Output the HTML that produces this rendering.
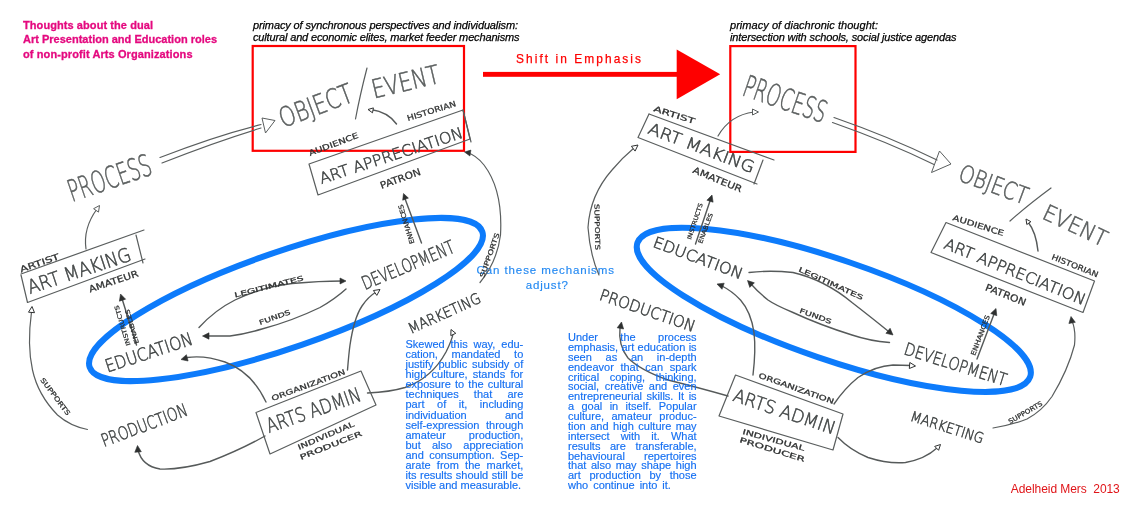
<!DOCTYPE html>
<html lang="en"><head><meta charset="utf-8"><title>Thoughts about the dual Art Presentation and Education roles of non-profit Arts Organizations</title>
<style>
html,body{margin:0;padding:0;background:#fff}
#stage{position:relative;width:1136px;height:505px;overflow:hidden;background:#fff;font-family:"Liberation Sans",sans-serif}
#stage svg{position:absolute;left:0;top:0}
#layer{position:absolute;left:0;top:0;width:1136px;height:505px;will-change:transform;transform:translateZ(0)}
.para{position:absolute;color:#1670f2;font-size:11px;line-height:10px;-webkit-text-stroke:0.16px #1670f2}
.para div{white-space:nowrap;text-align:justify;text-align-last:justify;height:10px;overflow:visible}
.para div.last{text-align-last:left;white-space:nowrap}
svg text{white-space:pre}
</style></head><body>
<div id="stage"><div id="layer">
<svg width="1136" height="505" viewBox="0 0 1136 505">
<ellipse cx="286" cy="299.5" rx="207.7" ry="48" transform="rotate(-19.06 286 299.5)" fill="none" stroke="#0d7bfb" stroke-width="6"/>
<ellipse cx="833.8" cy="309.8" rx="207.5" ry="50" transform="rotate(18.85 833.8 309.8)" fill="none" stroke="#0d7bfb" stroke-width="6"/>
<rect x="252.7" y="46" width="211.3" height="104.8" fill="none" stroke="#fe0000" stroke-width="2.2"/>
<rect x="730.3" y="46.1" width="125.2" height="105.8" fill="none" stroke="#fe0000" stroke-width="2.2"/>
<rect x="483" y="71.9" width="196" height="4.9" fill="#fe0000"/>
<polygon points="676.7,49.4 720.2,74.3 676.7,99.2" fill="#fe0000"/>
<text x="516" y="62.8" font-family="'Liberation Sans',sans-serif" font-size="11.9" font-weight="400" font-style="normal" fill="#fe0000" textLength="125" lengthAdjust="spacing" stroke="#fe0000" stroke-width="0.25">Shift in Emphasis</text>
<text x="23" y="28.5" font-family="'Liberation Sans',sans-serif" font-size="11" font-weight="700" font-style="normal" fill="#e4097f" textLength="130" lengthAdjust="spacing" stroke="#e4097f" stroke-width="0.3">Thoughts about the dual</text>
<text x="23" y="43.4" font-family="'Liberation Sans',sans-serif" font-size="11" font-weight="700" font-style="normal" fill="#e4097f" textLength="194" lengthAdjust="spacing" stroke="#e4097f" stroke-width="0.3">Art Presentation and Education roles</text>
<text x="23" y="57.8" font-family="'Liberation Sans',sans-serif" font-size="11" font-weight="700" font-style="normal" fill="#e4097f" textLength="169.5" lengthAdjust="spacing" stroke="#e4097f" stroke-width="0.3">of non-profit Arts Organizations</text>
<text x="253" y="28.8" font-family="'Liberation Sans',sans-serif" font-size="11" font-weight="400" font-style="italic" fill="#000" textLength="265" lengthAdjust="spacing" stroke="#000" stroke-width="0.25">primacy of synchronous perspectives and individualism:</text>
<text x="253" y="40.8" font-family="'Liberation Sans',sans-serif" font-size="11" font-weight="400" font-style="italic" fill="#000" textLength="266.5" lengthAdjust="spacing" stroke="#000" stroke-width="0.25">cultural and economic elites, market feeder mechanisms</text>
<text x="730" y="28.8" font-family="'Liberation Sans',sans-serif" font-size="11" font-weight="400" font-style="italic" fill="#000" textLength="148" lengthAdjust="spacing" stroke="#000" stroke-width="0.25">primacy of diachronic thought:</text>
<text x="730" y="40.8" font-family="'Liberation Sans',sans-serif" font-size="11" font-weight="400" font-style="italic" fill="#000" textLength="226.5" lengthAdjust="spacing" stroke="#000" stroke-width="0.25">intersection with schools, social justice agendas</text>
<text x="476.5" y="273.8" font-family="'Liberation Sans',sans-serif" font-size="11.5" font-weight="400" font-style="normal" fill="#2489f2" textLength="137.5" lengthAdjust="spacing" stroke="#2489f2" stroke-width="0.15">Can these mechanisms</text>
<text x="525.8" y="288.8" font-family="'Liberation Sans',sans-serif" font-size="11.5" font-weight="400" font-style="normal" fill="#2489f2" textLength="42" lengthAdjust="spacing" stroke="#2489f2" stroke-width="0.15">adjust?</text>
<text x="1010.8" y="492.8" font-family="'Liberation Sans',sans-serif" font-size="12" font-weight="400" font-style="normal" fill="#e01418" textLength="109" lengthAdjust="spacing" >Adelheid Mers  2013</text>
<text transform="translate(72.0 202.0) rotate(-18.9)" font-family="'DejaVu Sans Light','DejaVu Sans','Liberation Sans',sans-serif" font-weight="200" font-size="30.2" fill="#5a5e5e" stroke="#5a5e5e" stroke-width="0.55" textLength="86.6" lengthAdjust="spacingAndGlyphs" >PROCESS</text>
<path d="M160,157.5 Q215,136 261,124.5" fill="none" stroke="#5a5e5e" stroke-width="1.2" stroke-linecap="round" stroke-linejoin="round" />
<path d="M162,163 Q215,142 261,128" fill="none" stroke="#5a5e5e" stroke-width="1.2" stroke-linecap="round" stroke-linejoin="round" />
<polygon points="262,118 275,120.5 265.5,133" fill="none" stroke="#5a5e5e" stroke-width="1"/>
<text transform="translate(283.0 128.0) rotate(-20.6)" font-family="'DejaVu Sans Light','DejaVu Sans','Liberation Sans',sans-serif" font-weight="200" font-size="27.2" fill="#5a5e5e" stroke="#5a5e5e" stroke-width="0.55" textLength="76.9" lengthAdjust="spacingAndGlyphs" >OBJECT</text>
<path d="M367,68 Q360,95 355.5,119" fill="none" stroke="#5a5e5e" stroke-width="1.2" stroke-linecap="round" stroke-linejoin="round" />
<text transform="translate(374.0 98.5) rotate(-13.4)" font-family="'DejaVu Sans Light','DejaVu Sans','Liberation Sans',sans-serif" font-weight="200" font-size="25.9" fill="#5a5e5e" stroke="#5a5e5e" stroke-width="0.55" textLength="68.9" lengthAdjust="spacingAndGlyphs" >EVENT</text>
<text transform="translate(408.0 121.0) rotate(-17.2)" font-family="'DejaVu Sans','Liberation Sans',sans-serif" font-weight="400" font-size="7.8" fill="#2e3030" stroke="#2e3030" stroke-width="0.25" textLength="50.8" lengthAdjust="spacingAndGlyphs" >HISTORIAN</text>
<path d="M396.5,124 Q388,112 371,109.5" fill="none" stroke="#565a5a" stroke-width="1.44" stroke-linecap="round" stroke-linejoin="round" />
<polygon points="368.0,109.5 373.4,107.9 372.5,112.8" fill="#fff" stroke="#2e3030" stroke-width="1" stroke-linejoin="round"/>
<text transform="translate(310.0 156.0) rotate(-20.7)" font-family="'DejaVu Sans','Liberation Sans',sans-serif" font-weight="400" font-size="7.8" fill="#2e3030" stroke="#2e3030" stroke-width="0.25" textLength="52.4" lengthAdjust="spacingAndGlyphs" >AUDIENCE</text>
<path d="M309,164 L463,110 L470,139 L318,195 Z" fill="none" stroke="#5a5e5e" stroke-width="1.2" stroke-linecap="round" stroke-linejoin="round" />
<path d="M463,110 L471,142" fill="none" stroke="#5a5e5e" stroke-width="1.2" stroke-linecap="round" stroke-linejoin="round" />
<text transform="translate(321.5 184.0) rotate(-18.1)" font-family="'DejaVu Sans Light','DejaVu Sans','Liberation Sans',sans-serif" font-weight="200" font-size="15.4" fill="#444848" stroke="#444848" stroke-width="0.55" textLength="149.9" lengthAdjust="spacingAndGlyphs" >ART APPRECIATION</text>
<text transform="translate(381.5 189.0) rotate(-19.9)" font-family="'DejaVu Sans','Liberation Sans',sans-serif" font-weight="400" font-size="9.7" fill="#2e3030" stroke="#2e3030" stroke-width="0.25" textLength="42.5" lengthAdjust="spacingAndGlyphs" >PATRON</text>
<path d="M404,196 L421.5,243" fill="none" stroke="#565a5a" stroke-width="1.44" stroke-linecap="round" stroke-linejoin="round" />
<polygon points="403.5,193.5 408.4,198.1 402.7,200.2" fill="#2e3030" stroke="#2e3030" stroke-width="0.6" stroke-linejoin="round"/>
<text transform="translate(414.5 243.0) rotate(-107.1)" font-family="'DejaVu Sans','Liberation Sans',sans-serif" font-weight="400" font-size="6.6" fill="#2e3030" stroke="#2e3030" stroke-width="0.25" textLength="40.8" lengthAdjust="spacingAndGlyphs" >ENHANCES</text>
<path d="M480,282.5 Q497,262 500.5,235 Q503,190 484,165 Q476,155 467,152.5" fill="none" stroke="#5a5e5e" stroke-width="1.2" stroke-linecap="round" stroke-linejoin="round" />
<polygon points="464.5,152.0 470.9,150.1 469.9,156.0" fill="#2e3030" stroke="#2e3030" stroke-width="0.6" stroke-linejoin="round"/>
<text transform="translate(484.0 278.0) rotate(-70.6)" font-family="'DejaVu Sans','Liberation Sans',sans-serif" font-weight="400" font-size="6.6" fill="#2e3030" stroke="#2e3030" stroke-width="0.25" textLength="46.7" lengthAdjust="spacingAndGlyphs" >SUPPORTS</text>
<text transform="translate(365.0 290.0) rotate(-22.7)" font-family="'DejaVu Sans Light','DejaVu Sans','Liberation Sans',sans-serif" font-weight="200" font-size="18.5" fill="#444848" stroke="#444848" stroke-width="0.55" textLength="98.6" lengthAdjust="spacingAndGlyphs" >DEVELOPMENT</text>
<path d="M199,327.5 Q215,310 235,300 Q262,287 292,283.5 Q320,281 342,281" fill="none" stroke="#565a5a" stroke-width="1.38" stroke-linecap="round" stroke-linejoin="round" />
<polygon points="346.0,281.0 340.0,284.0 340.0,278.0" fill="#2e3030" stroke="#2e3030" stroke-width="0.6" stroke-linejoin="round"/>
<text transform="translate(235.0 297.5) rotate(-14.2)" font-family="'DejaVu Sans','Liberation Sans',sans-serif" font-weight="400" font-size="6.6" fill="#2e3030" stroke="#2e3030" stroke-width="0.25" textLength="71.2" lengthAdjust="spacingAndGlyphs" >LEGITIMATES</text>
<path d="M346,289 Q335,299 320,307.5 Q292,321 262,329 Q245,334 230,336 L208,336" fill="none" stroke="#565a5a" stroke-width="1.38" stroke-linecap="round" stroke-linejoin="round" />
<polygon points="202.5,336.0 209.0,332.8 209.0,339.2" fill="#2e3030" stroke="#2e3030" stroke-width="0.6" stroke-linejoin="round"/>
<text transform="translate(260.0 325.0) rotate(-19.5)" font-family="'DejaVu Sans','Liberation Sans',sans-serif" font-weight="400" font-size="6.6" fill="#2e3030" stroke="#2e3030" stroke-width="0.25" textLength="32.9" lengthAdjust="spacingAndGlyphs" >FUNDS</text>
<text transform="translate(107.5 372.5) rotate(-18.2)" font-family="'DejaVu Sans Light','DejaVu Sans','Liberation Sans',sans-serif" font-weight="200" font-size="17.9" fill="#444848" stroke="#444848" stroke-width="0.55" textLength="91.1" lengthAdjust="spacingAndGlyphs" >EDUCATION</text>
<path d="M266,402 Q252,372 225,362 Q205,355 187,357.5" fill="none" stroke="#565a5a" stroke-width="1.38" stroke-linecap="round" stroke-linejoin="round" />
<polygon points="181.0,359.5 186.4,354.7 188.1,361.0" fill="#2e3030" stroke="#2e3030" stroke-width="0.6" stroke-linejoin="round"/>
<path d="M347.5,370 Q349,352 350,345 Q354,318 362,306 Q368,297 376,292" fill="none" stroke="#565a5a" stroke-width="1.38" stroke-linecap="round" stroke-linejoin="round" />
<polygon points="380.0,289.5 376.8,295.4 373.4,290.5" fill="#fff" stroke="#2e3030" stroke-width="1" stroke-linejoin="round"/>
<text transform="translate(411.0 334.0) rotate(-24.3)" font-family="'DejaVu Sans Light','DejaVu Sans','Liberation Sans',sans-serif" font-weight="200" font-size="14.8" fill="#444848" stroke="#444848" stroke-width="0.55" textLength="77.9" lengthAdjust="spacingAndGlyphs" >MARKETING</text>
<path d="M367.5,393 Q390,392 405,387.5 Q432,378 446,352 Q452,340 453,334" fill="none" stroke="#565a5a" stroke-width="1.38" stroke-linecap="round" stroke-linejoin="round" />
<polygon points="451.0,329.5 455.8,333.3 450.8,335.6" fill="#fff" stroke="#2e3030" stroke-width="1" stroke-linejoin="round"/>
<path d="M256,412.5 L361,371 L376,405 L270,454 Z" fill="none" stroke="#5a5e5e" stroke-width="1.2" stroke-linecap="round" stroke-linejoin="round" />
<text transform="translate(269.0 433.0) rotate(-19.2)" font-family="'DejaVu Sans Light','DejaVu Sans','Liberation Sans',sans-serif" font-weight="200" font-size="19.8" fill="#444848" stroke="#444848" stroke-width="0.55" textLength="99.0" lengthAdjust="spacingAndGlyphs" >ARTS ADMIN</text>
<text transform="translate(272.5 401.0) rotate(-20.2)" font-family="'DejaVu Sans','Liberation Sans',sans-serif" font-weight="400" font-size="7.2" fill="#2e3030" stroke="#2e3030" stroke-width="0.25" textLength="78.3" lengthAdjust="spacingAndGlyphs" >ORGANIZATION</text>
<text transform="translate(299.0 450.0) rotate(-23.2)" font-family="'DejaVu Sans','Liberation Sans',sans-serif" font-weight="400" font-size="7.2" fill="#2e3030" stroke="#2e3030" stroke-width="0.25" textLength="60.9" lengthAdjust="spacingAndGlyphs" >INDIVIDUAL</text>
<text transform="translate(301.0 460.0) rotate(-21.7)" font-family="'DejaVu Sans','Liberation Sans',sans-serif" font-weight="400" font-size="7.2" fill="#2e3030" stroke="#2e3030" stroke-width="0.25" textLength="66.2" lengthAdjust="spacingAndGlyphs" >PRODUCER</text>
<text transform="translate(104.0 447.0) rotate(-20.6)" font-family="'DejaVu Sans Light','DejaVu Sans','Liberation Sans',sans-serif" font-weight="200" font-size="17.9" fill="#444848" stroke="#444848" stroke-width="0.55" textLength="90.8" lengthAdjust="spacingAndGlyphs" >PRODUCTION</text>
<path d="M265,436 Q240,450 210,461.5 Q180,470 160,469 Q142,466 138,450" fill="none" stroke="#565a5a" stroke-width="1.38" stroke-linecap="round" stroke-linejoin="round" />
<polygon points="137.5,445.5 141.3,451.7 134.8,452.3" fill="#2e3030" stroke="#2e3030" stroke-width="0.6" stroke-linejoin="round"/>
<path d="M21,274 L144,230" fill="none" stroke="#5a5e5e" stroke-width="1.2" stroke-linecap="round" stroke-linejoin="round" />
<path d="M136,235 L143,263" fill="none" stroke="#5a5e5e" stroke-width="1.2" stroke-linecap="round" stroke-linejoin="round" />
<path d="M27.5,302.5 L145,259" fill="none" stroke="#5a5e5e" stroke-width="1.2" stroke-linecap="round" stroke-linejoin="round" />
<path d="M21,275 L27.5,302.5" fill="none" stroke="#5a5e5e" stroke-width="1.2" stroke-linecap="round" stroke-linejoin="round" />
<text transform="translate(30.0 294.0) rotate(-18.4)" font-family="'DejaVu Sans Light','DejaVu Sans','Liberation Sans',sans-serif" font-weight="200" font-size="19.1" fill="#444848" stroke="#444848" stroke-width="0.55" textLength="108.0" lengthAdjust="spacingAndGlyphs" >ART MAKING</text>
<text transform="translate(21.0 272.5) rotate(-19.1)" font-family="'DejaVu Sans','Liberation Sans',sans-serif" font-weight="400" font-size="8.4" fill="#2e3030" stroke="#2e3030" stroke-width="0.25" textLength="41.3" lengthAdjust="spacingAndGlyphs" >ARTIST</text>
<text transform="translate(90.0 292.5) rotate(-18.6)" font-family="'DejaVu Sans','Liberation Sans',sans-serif" font-weight="400" font-size="9.1" fill="#2e3030" stroke="#2e3030" stroke-width="0.25" textLength="51.7" lengthAdjust="spacingAndGlyphs" >AMATEUR</text>
<path d="M86,249 Q83,228 97,209" fill="none" stroke="#5a5e5e" stroke-width="1.2" stroke-linecap="round" stroke-linejoin="round" />
<polygon points="99.5,205.5 98.5,212.1 93.6,208.7" fill="#fff" stroke="#5a5e5e" stroke-width="1" stroke-linejoin="round"/>
<path d="M121.5,297 L136.5,345" fill="none" stroke="#565a5a" stroke-width="1.44" stroke-linecap="round" stroke-linejoin="round" />
<polygon points="120.5,294.0 125.6,299.2 119.4,301.2" fill="#2e3030" stroke="#2e3030" stroke-width="0.6" stroke-linejoin="round"/>
<text transform="translate(130.5 345.0) rotate(-106.7)" font-family="'DejaVu Sans','Liberation Sans',sans-serif" font-weight="400" font-size="6.0" fill="#2e3030" stroke="#2e3030" stroke-width="0.25" textLength="41.8" lengthAdjust="spacingAndGlyphs" >INSTRUCTS</text>
<text transform="translate(139.0 343.0) rotate(-106.4)" font-family="'DejaVu Sans','Liberation Sans',sans-serif" font-weight="400" font-size="6.0" fill="#2e3030" stroke="#2e3030" stroke-width="0.25" textLength="35.4" lengthAdjust="spacingAndGlyphs" >ENABLES</text>
<path d="M87.5,429.5 Q70,426 57.5,415 Q38,395 32.5,370 Q27,345 31.5,312" fill="none" stroke="#5a5e5e" stroke-width="1.2" stroke-linecap="round" stroke-linejoin="round" />
<polygon points="32.0,306.5 34.5,312.7 28.5,312.2" fill="#fff" stroke="#2e3030" stroke-width="1" stroke-linejoin="round"/>
<text transform="translate(40.0 380.0) rotate(53.1)" font-family="'DejaVu Sans','Liberation Sans',sans-serif" font-weight="400" font-size="6.6" fill="#2e3030" stroke="#2e3030" stroke-width="0.25" textLength="45.0" lengthAdjust="spacingAndGlyphs" >SUPPORTS</text>
<text transform="translate(741.0 95.0) rotate(19.0)" font-family="'DejaVu Sans Light','DejaVu Sans','Liberation Sans',sans-serif" font-weight="200" font-size="30.2" fill="#5a5e5e" stroke="#5a5e5e" stroke-width="0.55" textLength="86.2" lengthAdjust="spacingAndGlyphs" >PROCESS</text>
<path d="M834,117.5 Q890,137 937,160" fill="none" stroke="#5a5e5e" stroke-width="1.2" stroke-linecap="round" stroke-linejoin="round" />
<path d="M832.5,122.5 Q888,142 934,164.5" fill="none" stroke="#5a5e5e" stroke-width="1.2" stroke-linecap="round" stroke-linejoin="round" />
<polygon points="939.5,151 951,164 931.5,172.5" fill="none" stroke="#5a5e5e" stroke-width="1"/>
<text transform="translate(957.0 180.0) rotate(20.3)" font-family="'DejaVu Sans Light','DejaVu Sans','Liberation Sans',sans-serif" font-weight="200" font-size="24.1" fill="#5a5e5e" stroke="#5a5e5e" stroke-width="0.55" textLength="72.0" lengthAdjust="spacingAndGlyphs" >OBJECT</text>
<path d="M1051,188 Q1028,205 1010,221" fill="none" stroke="#5a5e5e" stroke-width="1.2" stroke-linecap="round" stroke-linejoin="round" />
<text transform="translate(1041.0 218.0) rotate(25.1)" font-family="'DejaVu Sans Light','DejaVu Sans','Liberation Sans',sans-serif" font-weight="200" font-size="22.2" fill="#5a5e5e" stroke="#5a5e5e" stroke-width="0.55" textLength="68.4" lengthAdjust="spacingAndGlyphs" >EVENT</text>
<text transform="translate(952.0 220.0) rotate(17.4)" font-family="'DejaVu Sans','Liberation Sans',sans-serif" font-weight="400" font-size="7.8" fill="#2e3030" stroke="#2e3030" stroke-width="0.25" textLength="53.5" lengthAdjust="spacingAndGlyphs" >AUDIENCE</text>
<text transform="translate(1051.0 259.0) rotate(21.9)" font-family="'DejaVu Sans','Liberation Sans',sans-serif" font-weight="400" font-size="7.8" fill="#2e3030" stroke="#2e3030" stroke-width="0.25" textLength="49.6" lengthAdjust="spacingAndGlyphs" >HISTORIAN</text>
<path d="M1038,251 Q1036,232 1028,222" fill="none" stroke="#565a5a" stroke-width="1.44" stroke-linecap="round" stroke-linejoin="round" />
<polygon points="1026.0,219.0 1030.9,221.7 1026.8,224.5" fill="#fff" stroke="#2e3030" stroke-width="1" stroke-linejoin="round"/>
<path d="M946,222.5 L1094.5,281 L1083,312.5 L931,252.5 Z" fill="none" stroke="#5a5e5e" stroke-width="1.2" stroke-linecap="round" stroke-linejoin="round" />
<text transform="translate(943.0 248.0) rotate(22.2)" font-family="'DejaVu Sans Light','DejaVu Sans','Liberation Sans',sans-serif" font-weight="200" font-size="15.4" fill="#444848" stroke="#444848" stroke-width="0.55" textLength="151.2" lengthAdjust="spacingAndGlyphs" >ART APPRECIATION</text>
<text transform="translate(984.5 290.0) rotate(21.8)" font-family="'DejaVu Sans','Liberation Sans',sans-serif" font-weight="400" font-size="9.7" fill="#2e3030" stroke="#2e3030" stroke-width="0.25" textLength="43.1" lengthAdjust="spacingAndGlyphs" >PATRON</text>
<path d="M995,311.5 L977,359" fill="none" stroke="#565a5a" stroke-width="1.44" stroke-linecap="round" stroke-linejoin="round" />
<polygon points="996.0,308.5 996.8,315.7 990.7,313.5" fill="#2e3030" stroke="#2e3030" stroke-width="0.6" stroke-linejoin="round"/>
<text transform="translate(975.0 356.0) rotate(-69.4)" font-family="'DejaVu Sans','Liberation Sans',sans-serif" font-weight="400" font-size="6.6" fill="#2e3030" stroke="#2e3030" stroke-width="0.25" textLength="42.7" lengthAdjust="spacingAndGlyphs" >ENHANCES</text>
<path d="M993,428 Q1012,425 1027,419 Q1042,411 1052,396.5 Q1068,370 1074.5,345 Q1076,330 1072,321" fill="none" stroke="#5a5e5e" stroke-width="1.2" stroke-linecap="round" stroke-linejoin="round" />
<polygon points="1071.0,316.5 1075.3,322.3 1068.9,323.5" fill="#2e3030" stroke="#2e3030" stroke-width="0.6" stroke-linejoin="round"/>
<text transform="translate(1010.0 424.0) rotate(-29.9)" font-family="'DejaVu Sans','Liberation Sans',sans-serif" font-weight="400" font-size="6.6" fill="#2e3030" stroke="#2e3030" stroke-width="0.25" textLength="38.1" lengthAdjust="spacingAndGlyphs" >SUPPORTS</text>
<text transform="translate(903.0 354.0) rotate(17.5)" font-family="'DejaVu Sans Light','DejaVu Sans','Liberation Sans',sans-serif" font-weight="200" font-size="17.3" fill="#444848" stroke="#444848" stroke-width="0.55" textLength="106.4" lengthAdjust="spacingAndGlyphs" >DEVELOPMENT</text>
<path d="M749,272.5 Q770,270 793,272.5 Q825,280 852,302.5 Q872,318 888,331" fill="none" stroke="#565a5a" stroke-width="1.38" stroke-linecap="round" stroke-linejoin="round" />
<polygon points="893.0,335.0 885.9,333.3 890.1,328.3" fill="#2e3030" stroke="#2e3030" stroke-width="0.6" stroke-linejoin="round"/>
<text transform="translate(798.0 271.0) rotate(24.4)" font-family="'DejaVu Sans','Liberation Sans',sans-serif" font-weight="400" font-size="6.6" fill="#2e3030" stroke="#2e3030" stroke-width="0.25" textLength="70.3" lengthAdjust="spacingAndGlyphs" >LEGITIMATES</text>
<path d="M889.5,342.5 Q870,341 852,335 Q820,325 793,312.5 Q775,305 768,300 Q758,292 751,284" fill="none" stroke="#565a5a" stroke-width="1.38" stroke-linecap="round" stroke-linejoin="round" />
<polygon points="747.5,280.5 754.4,282.8 749.8,287.4" fill="#2e3030" stroke="#2e3030" stroke-width="0.6" stroke-linejoin="round"/>
<text transform="translate(799.0 312.5) rotate(20.1)" font-family="'DejaVu Sans','Liberation Sans',sans-serif" font-weight="400" font-size="6.6" fill="#2e3030" stroke="#2e3030" stroke-width="0.25" textLength="33.5" lengthAdjust="spacingAndGlyphs" >FUNDS</text>
<text transform="translate(652.0 246.5) rotate(20.4)" font-family="'DejaVu Sans Light','DejaVu Sans','Liberation Sans',sans-serif" font-weight="200" font-size="15.4" fill="#444848" stroke="#444848" stroke-width="0.55" textLength="94.5" lengthAdjust="spacingAndGlyphs" >EDUCATION</text>
<path d="M753,375 Q756,350 754,332.5 Q751,312 740.5,300 Q732,291 722,286" fill="none" stroke="#565a5a" stroke-width="1.38" stroke-linecap="round" stroke-linejoin="round" />
<polygon points="717.0,284.0 724.2,283.2 722.0,289.3" fill="#2e3030" stroke="#2e3030" stroke-width="0.6" stroke-linejoin="round"/>
<path d="M834,404 Q845,388 858,377.5 Q875,366 893,365 L911,365.5" fill="none" stroke="#565a5a" stroke-width="1.38" stroke-linecap="round" stroke-linejoin="round" />
<polygon points="915.5,366.0 909.3,368.5 909.8,362.5" fill="#fff" stroke="#2e3030" stroke-width="1" stroke-linejoin="round"/>
<text transform="translate(909.5 420.5) rotate(17.6)" font-family="'DejaVu Sans Light','DejaVu Sans','Liberation Sans',sans-serif" font-weight="200" font-size="14.2" fill="#444848" stroke="#444848" stroke-width="0.55" textLength="76.1" lengthAdjust="spacingAndGlyphs" >MARKETING</text>
<path d="M838,437.5 Q850,450 868,457.5 Q888,464 905.5,462.5 Q925,459 937,448" fill="none" stroke="#565a5a" stroke-width="1.38" stroke-linecap="round" stroke-linejoin="round" />
<polygon points="940.5,444.5 938.6,450.3 934.7,446.4" fill="#fff" stroke="#2e3030" stroke-width="1" stroke-linejoin="round"/>
<path d="M735.5,375 L843,414 L833,450 L719,416 Z" fill="none" stroke="#5a5e5e" stroke-width="1.2" stroke-linecap="round" stroke-linejoin="round" />
<text transform="translate(732.0 400.5) rotate(18.6)" font-family="'DejaVu Sans Light','DejaVu Sans','Liberation Sans',sans-serif" font-weight="200" font-size="17.9" fill="#444848" stroke="#444848" stroke-width="0.55" textLength="106.6" lengthAdjust="spacingAndGlyphs" >ARTS ADMIN</text>
<text transform="translate(758.0 377.5) rotate(19.5)" font-family="'DejaVu Sans','Liberation Sans',sans-serif" font-weight="400" font-size="7.2" fill="#2e3030" stroke="#2e3030" stroke-width="0.25" textLength="79.5" lengthAdjust="spacingAndGlyphs" >ORGANIZATION</text>
<text transform="translate(742.0 434.0) rotate(15.3)" font-family="'DejaVu Sans','Liberation Sans',sans-serif" font-weight="400" font-size="7.2" fill="#2e3030" stroke="#2e3030" stroke-width="0.25" textLength="64.3" lengthAdjust="spacingAndGlyphs" >INDIVIDUAL</text>
<text transform="translate(739.0 442.0) rotate(17.1)" font-family="'DejaVu Sans','Liberation Sans',sans-serif" font-weight="400" font-size="7.2" fill="#2e3030" stroke="#2e3030" stroke-width="0.25" textLength="68.0" lengthAdjust="spacingAndGlyphs" >PRODUCER</text>
<text transform="translate(598.5 299.5) rotate(19.0)" font-family="'DejaVu Sans Light','DejaVu Sans','Liberation Sans',sans-serif" font-weight="200" font-size="16.0" fill="#444848" stroke="#444848" stroke-width="0.55" textLength="99.9" lengthAdjust="spacingAndGlyphs" >PRODUCTION</text>
<path d="M728,396 Q700,388 668,380 Q640,370 628,358 Q618,345 620,328" fill="none" stroke="#565a5a" stroke-width="1.38" stroke-linecap="round" stroke-linejoin="round" />
<polygon points="621.5,322.0 623.6,329.0 617.2,327.8" fill="#2e3030" stroke="#2e3030" stroke-width="0.6" stroke-linejoin="round"/>
<path d="M649,114 L774,160" fill="none" stroke="#5a5e5e" stroke-width="1.2" stroke-linecap="round" stroke-linejoin="round" />
<path d="M649,114 L638,137.5 L757,184" fill="none" stroke="#5a5e5e" stroke-width="1.2" stroke-linecap="round" stroke-linejoin="round" />
<path d="M763,160 L754,184" fill="none" stroke="#5a5e5e" stroke-width="1.2" stroke-linecap="round" stroke-linejoin="round" />
<text transform="translate(647.0 133.0) rotate(20.9)" font-family="'DejaVu Sans Light','DejaVu Sans','Liberation Sans',sans-serif" font-weight="200" font-size="16.0" fill="#444848" stroke="#444848" stroke-width="0.55" textLength="112.4" lengthAdjust="spacingAndGlyphs" >ART MAKING</text>
<text transform="translate(653.0 111.0) rotate(17.6)" font-family="'DejaVu Sans','Liberation Sans',sans-serif" font-weight="400" font-size="7.8" fill="#2e3030" stroke="#2e3030" stroke-width="0.25" textLength="43.0" lengthAdjust="spacingAndGlyphs" >ARTIST</text>
<text transform="translate(692.0 172.5) rotate(22.4)" font-family="'DejaVu Sans','Liberation Sans',sans-serif" font-weight="400" font-size="9.1" fill="#2e3030" stroke="#2e3030" stroke-width="0.25" textLength="52.5" lengthAdjust="spacingAndGlyphs" >AMATEUR</text>
<path d="M718,136 Q730,115 754,112" fill="none" stroke="#5a5e5e" stroke-width="1.2" stroke-linecap="round" stroke-linejoin="round" />
<polygon points="758.5,112.0 752.5,115.0 752.5,109.0" fill="#fff" stroke="#5a5e5e" stroke-width="1" stroke-linejoin="round"/>
<path d="M711,198 L695.5,244" fill="none" stroke="#565a5a" stroke-width="1.44" stroke-linecap="round" stroke-linejoin="round" />
<polygon points="712.0,195.0 713.1,202.2 706.9,200.2" fill="#2e3030" stroke="#2e3030" stroke-width="0.6" stroke-linejoin="round"/>
<text transform="translate(691.0 240.0) rotate(-71.6)" font-family="'DejaVu Sans','Liberation Sans',sans-serif" font-weight="400" font-size="6.0" fill="#2e3030" stroke="#2e3030" stroke-width="0.25" textLength="37.9" lengthAdjust="spacingAndGlyphs" >INSTRUCTS</text>
<text transform="translate(702.0 244.0) rotate(-69.9)" font-family="'DejaVu Sans','Liberation Sans',sans-serif" font-weight="400" font-size="6.0" fill="#2e3030" stroke="#2e3030" stroke-width="0.25" textLength="32.0" lengthAdjust="spacingAndGlyphs" >ENABLES</text>
<path d="M599,275 Q590,255 588,227.5 Q590,195 612,170 Q622,158 634,148" fill="none" stroke="#5a5e5e" stroke-width="1.2" stroke-linecap="round" stroke-linejoin="round" />
<polygon points="638.0,145.0 635.1,151.1 631.4,146.3" fill="#fff" stroke="#2e3030" stroke-width="1" stroke-linejoin="round"/>
<text transform="translate(594.5 204.0) rotate(88.8)" font-family="'DejaVu Sans','Liberation Sans',sans-serif" font-weight="400" font-size="6.6" fill="#2e3030" stroke="#2e3030" stroke-width="0.25" textLength="46.0" lengthAdjust="spacingAndGlyphs" >SUPPORTS</text>
</svg>
<div class="para" style="left:405.5px;top:339.0px;width:117.8px;line-height:10.08px"><div style="height:10.08px">Skewed this way, edu-</div><div style="height:10.08px">cation, mandated to</div><div style="height:10.08px">justify public subsidy of</div><div style="height:10.08px">high culture, stands for</div><div style="height:10.08px">exposure to the cultural</div><div style="height:10.08px">techniques that are</div><div style="height:10.08px">part of it, including</div><div style="height:10.08px">individuation and</div><div style="height:10.08px">self-expression through</div><div style="height:10.08px">amateur production,</div><div style="height:10.08px">but also appreciation</div><div style="height:10.08px">and consumption. Sep-</div><div style="height:10.08px">arate from the market,</div><div style="height:10.08px">its results should still be</div><div class="last" style="height:10.08px">visible and measurable.</div></div>
<div class="para" style="left:568px;top:333.2px;width:128.6px;line-height:9.86px"><div style="height:9.86px">Under the process</div><div style="height:9.86px">emphasis, art education is</div><div style="height:9.86px">seen as an in-depth</div><div style="height:9.86px">endeavor that can spark</div><div style="height:9.86px">critical coping, thinking,</div><div style="height:9.86px">social, creative and even</div><div style="height:9.86px">entrepreneurial skills. It is</div><div style="height:9.86px">a goal in itself. Popular</div><div style="height:9.86px">culture, amateur produc-</div><div style="height:9.86px">tion and high culture may</div><div style="height:9.86px">intersect with it. What</div><div style="height:9.86px">results are transferable,</div><div style="height:9.86px">behavioural repertoires</div><div style="height:9.86px">that also may shape high</div><div style="height:9.86px">art production by those</div><div class="last" style="height:9.86px;word-spacing:1.9px">who continue into it.</div></div>
</div></div>
</body></html>
